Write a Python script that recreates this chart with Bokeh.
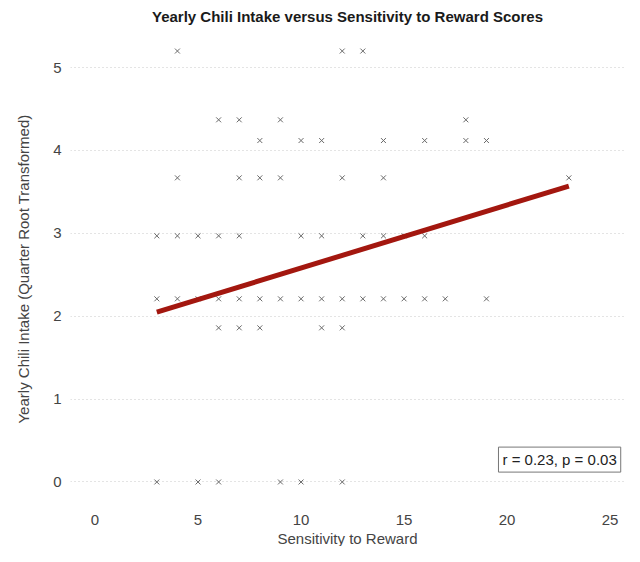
from bokeh.plotting import figure
from bokeh.models import Range1d, Label, FixedTicker, Title
from bokeh.embed import file_html
from bokeh.resources import INLINE

# Data (sensitivity to reward vs quarter-root chili intake)
sensitivity = [4, 12, 13,
               6, 7, 9, 18,
               8, 10, 11, 14, 16, 18, 19,
               4, 7, 8, 9, 12, 14, 23,
               3, 4, 5, 6, 7, 10, 11, 13, 14, 15, 16,
               3, 4, 5, 6, 7, 8, 9, 10, 11, 12, 13, 14, 15, 16, 17, 19,
               6, 7, 8, 11, 12,
               3, 5, 6, 9, 10, 12]
chili = [5.2] * 3 + [4.37] * 4 + [4.12] * 7 + [3.67] * 7 + [2.97] * 11 + \
        [2.21] * 16 + [1.86] * 5 + [0.0] * 6

fit_x = [3, 23]
fit_y = [2.05, 3.57]

x_ticks = [0, 5, 10, 15, 20, 25]
y_ticks = [0, 1, 2, 3, 4, 5]
annotation = "r = 0.23, p = 0.03"
x_title = "Sensitivity to Reward"
y_title = "Yearly Chili Intake (Quarter Root Transformed)"

FONT = "Liberation Sans"

p = figure(width=624, height=546, output_backend="svg", toolbar_location=None,
           x_range=Range1d(-1.19, 25.7), y_range=Range1d(-0.32, 5.46),
           min_border_left=64, min_border_right=0, min_border_top=22,
           min_border_bottom=20,
           title="Yearly Chili Intake versus Sensitivity to Reward Scores")

p.outline_line_color = None
p.title.align = "center"
p.title.text_font = FONT
p.title.text_font_size = "15px"
p.title.text_font_style = "bold"
p.title.text_color = "#1a1a1a"
p.title.offset = 0

p.xgrid.grid_line_color = None
p.ygrid.grid_line_color = "#c8c8c8"
p.ygrid.grid_line_dash = "1 3"
p.ygrid.grid_line_width = 1

for ax in (p.xaxis[0], p.yaxis[0]):
    ax.axis_line_color = None
    ax.major_tick_line_color = None
    ax.minor_tick_line_color = None
    ax.major_tick_out = 0
    ax.major_tick_in = 0
    ax.minor_tick_out = 0
    ax.major_label_text_font = FONT
    ax.major_label_text_font_size = "15px"
    ax.major_label_text_color = "#444444"

p.xaxis.ticker = FixedTicker(ticks=x_ticks)
p.yaxis.ticker = FixedTicker(ticks=y_ticks)
p.xaxis.major_label_standoff = 6
p.yaxis.major_label_standoff = 9

# spacer on the far left, then the y-axis title (vertical), then the tick labels
spacer = Title(text=" ", text_font_size="4px", standoff=0, offset=0)
p.add_layout(spacer, "left")
yt = Title(text=y_title, align="center", text_font=FONT, text_font_size="15px",
           text_font_style="normal", text_color="#444444", standoff=24, offset=0)
p.add_layout(yt, "left")

xt = Title(text=x_title, align="center", text_font=FONT, text_font_size="15px",
           text_font_style="normal", text_color="#444444", standoff=0, offset=0)
p.add_layout(xt, "below")

p.scatter(sensitivity, chili, marker="x", size=7, line_color="#6a6a6a", line_width=1)
p.line(fit_x, fit_y, line_color="#A3170F", line_width=5)

lab = Label(x=22.55, y=0.27, text=annotation, text_align="center",
            text_baseline="middle", text_font=FONT, text_font_size="15px",
            text_color="#222222", border_line_color="#777777",
            background_fill_color="white", padding=4)
p.add_layout(lab)

open("out.html", "w").write(file_html(p, INLINE))
